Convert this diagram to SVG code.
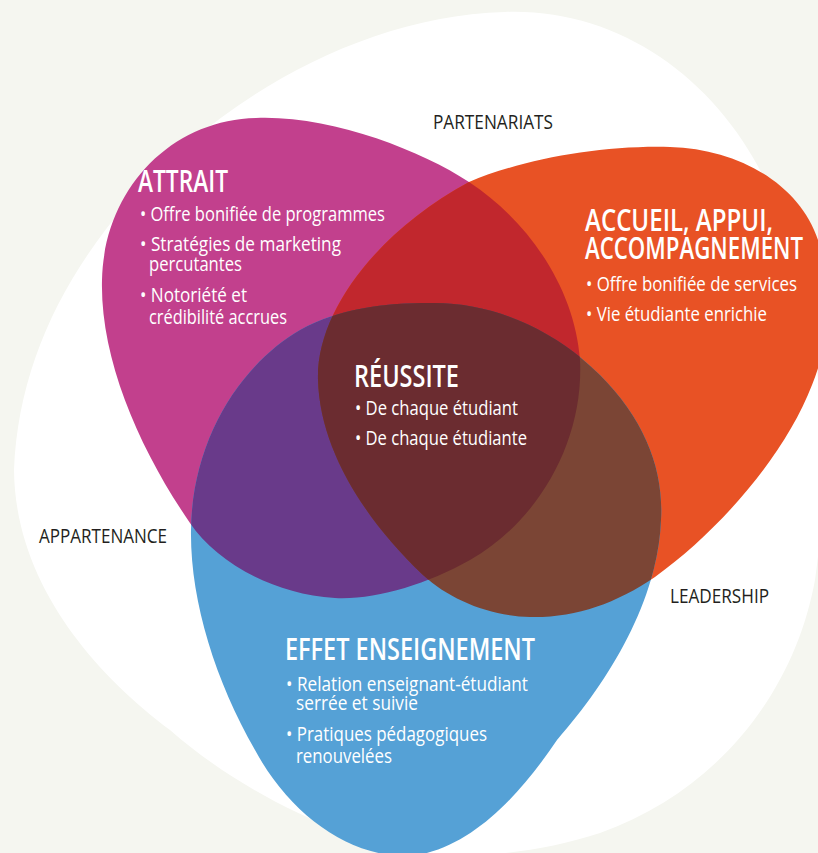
<svg xmlns="http://www.w3.org/2000/svg" width="818" height="853" viewBox="0 0 818 853">
<style>
text{font-family:"Open Sans","Noto Sans","Liberation Sans",sans-serif}
.t{fill:#ffffff;font-size:30px;font-weight:600}
.b{fill:#ffffff;font-size:20px;font-weight:400}
.l{fill:#231f20;font-size:20px;font-weight:400}
</style>
<defs>
<path id="pP" d="M256,118 C330,115 420,150 469,182 C530,222 575,290 580,360 C584,440 540,520 470,560 C425,585 375,600 335,598 C270,594 215,560 190,523 C140,450 100,360 102,280 C104,190 170,120 256,118 Z"/>
<path id="pO" d="M469,182 C520,160 600,145 670,147 C740,149 800,185 818,240 C835,290 830,340 812,385 C785,455 720,530 655,577 C615,604 575,618 530,617 C490,616 450,600 423,575 C365,520 320,450 318,380 C316,310 380,230 469,182 Z"/>
<path id="pB" d="M430,303 C500,302 560,335 600,375 C645,420 664,470 661,520 C658,600 610,680 557,740 C520,795 470,850 410,856 C350,858 290,815 255,750 C215,680 190,600 191,530 C192,440 240,365 300,330 C340,308 385,303 430,303 Z"/>
<clipPath id="cP"><use href="#pP"/></clipPath>
<clipPath id="cO"><use href="#pO"/></clipPath>
</defs>
<rect id="background" x="0" y="0" width="818" height="853" fill="#f5f6f0"/>
<path id="outer" d="M505,12 C620,8 720,80 770,190 C815,290 835,440 815,580 C795,690 720,790 600,833 C540,853 470,858 440,855 C360,848 250,800 170,730 C90,670 15,580 14,470 C18,370 60,280 130,200 C220,100 360,16 505,12 Z" fill="#ffffff"/>
<g id="labels">
<text class="l" x="433" y="129" textLength="120" lengthAdjust="spacingAndGlyphs">PARTENARIATS</text>
<text class="l" x="39" y="543" textLength="128" lengthAdjust="spacingAndGlyphs">APPARTENANCE</text>
<text class="l" x="670" y="603" textLength="99" lengthAdjust="spacingAndGlyphs">LEADERSHIP</text>
</g>
<g id="attrait">
<use href="#pP" fill="#c2408d"/>
<text class="t" x="138" y="192" textLength="90" lengthAdjust="spacingAndGlyphs">ATTRAIT</text>
<text class="b" x="140" y="221" textLength="245" lengthAdjust="spacingAndGlyphs">• Offre bonifiée de programmes</text>
<text class="b" x="140" y="251" textLength="201" lengthAdjust="spacingAndGlyphs">• Stratégies de marketing</text>
<text class="b" x="149" y="271" textLength="93" lengthAdjust="spacingAndGlyphs">percutantes</text>
<text class="b" x="140" y="302" textLength="107" lengthAdjust="spacingAndGlyphs">• Notoriété et</text>
<text class="b" x="149" y="324" textLength="138" lengthAdjust="spacingAndGlyphs">crédibilité accrues</text>
</g>
<g id="accueil">
<use href="#pO" fill="#e85225"/>
<text class="t" x="585" y="231" textLength="188" lengthAdjust="spacingAndGlyphs">ACCUEIL, APPUI,</text>
<text class="t" x="585" y="259" textLength="218" lengthAdjust="spacingAndGlyphs">ACCOMPAGNEMENT</text>
<text class="b" x="586" y="291" textLength="211" lengthAdjust="spacingAndGlyphs">• Offre bonifiée de services</text>
<text class="b" x="586" y="321" textLength="181" lengthAdjust="spacingAndGlyphs">• Vie étudiante enrichie</text>
</g>
<g id="effet">
<use href="#pB" fill="#55a1d6"/>
<text class="t" x="285" y="660" textLength="250" lengthAdjust="spacingAndGlyphs">EFFET ENSEIGNEMENT</text>
<text class="b" x="286" y="691" textLength="242" lengthAdjust="spacingAndGlyphs">• Relation enseignant-étudiant</text>
<text class="b" x="296" y="710" textLength="122" lengthAdjust="spacingAndGlyphs">serrée et suivie</text>
<text class="b" x="286" y="741" textLength="201" lengthAdjust="spacingAndGlyphs">• Pratiques pédagogiques</text>
<text class="b" x="296" y="763" textLength="96" lengthAdjust="spacingAndGlyphs">renouvelées</text>
</g>
<g id="overlaps">
<use href="#pO" fill="#c1272d" clip-path="url(#cP)"/>
<use href="#pB" fill="#693a8a" clip-path="url(#cP)"/>
<use href="#pB" fill="#7b4535" clip-path="url(#cO)"/>
</g>
<g id="reussite">
<g clip-path="url(#cP)"><use href="#pB" fill="#6b2c30" clip-path="url(#cO)"/></g>
<text class="t" x="354" y="387" textLength="105" lengthAdjust="spacingAndGlyphs">RÉUSSITE</text>
<text class="b" x="355" y="415" textLength="163" lengthAdjust="spacingAndGlyphs">• De chaque étudiant</text>
<text class="b" x="355" y="445" textLength="172" lengthAdjust="spacingAndGlyphs">• De chaque étudiante</text>
</g>
</svg>
